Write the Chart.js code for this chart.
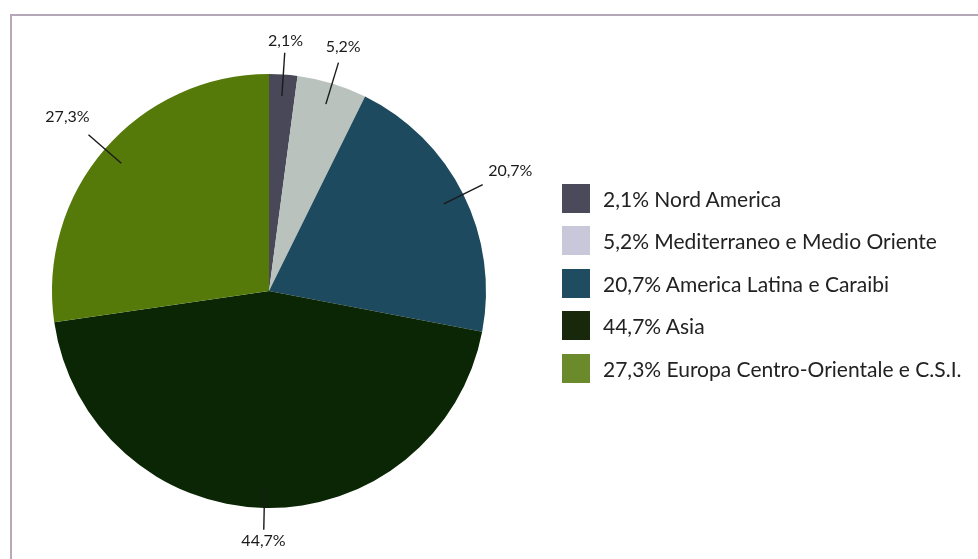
<!DOCTYPE html>
<html>
<head>
<meta charset="utf-8">
<script src="https://cdn.jsdelivr.net/npm/chart.js@4/dist/chart.umd.min.js"></script>
<style>
  html, body { margin: 0; padding: 0; background: #fff; }
  #wrap { position: relative; width: 978px; height: 559px; overflow: hidden; }
  #frame { position: absolute; left: 10px; top: 14px; width: 980px; height: 560px;
           border-top: 2px solid #b4a8b8; border-left: 2px solid #b8a8b8; }
  #chart { position: absolute; left: 0; top: 0; }
  #legend { position: absolute; left: 562px; top: 177px; font-family: Lato, sans-serif;
            font-size: 21px; color: #222; }
  .row { display: flex; align-items: center; height: 42.5px; }
  .box { width: 28px; height: 29px; margin-right: 13px; }
</style>
</head>
<body>
<div id="wrap">
  <div id="frame"></div>
  <canvas id="chart" width="978" height="559"></canvas>
  <div id="legend"></div>
</div>
<script>
// data
const regions = ['Nord America', 'Mediterraneo e Medio Oriente', 'America Latina e Caraibi', 'Asia', 'Europa Centro-Orientale e C.S.I.'];
const shares = [2.1, 5.2, 20.7, 44.7, 27.3];
const shareLabels = ['2,1%', '5,2%', '20,7%', '44,7%', '27,3%'];

const sliceColors = ['#484858', '#b9c2bc', '#1d4a5e', '#0b2605', '#567a0a'];
const boxColors = ['#4a4a5a', '#c8c8da', '#204c62', '#18280a', '#6a8a2c'];

// outside labels with leader lines
const leaderLabels = {
  id: 'leaderLabels',
  afterDatasetsDraw(chart) {
    const ctx = chart.ctx;
    const arcs = chart.getDatasetMeta(0).data;
    ctx.save();
    ctx.strokeStyle = '#1a1a1a';
    ctx.lineWidth = 1.4;
    ctx.fillStyle = '#1a1a1a';
    ctx.font = '16px Lato, sans-serif';
    ctx.textAlign = 'center';
    ctx.textBaseline = 'middle';
    arcs.forEach((arc, i) => {
      const p = arc.getProps(['x', 'y', 'startAngle', 'endAngle', 'outerRadius'], true);
      const a = (p.startAngle + p.endAngle) / 2;
      const r = p.outerRadius;
      const cos = Math.cos(a), sin = Math.sin(a);
      ctx.beginPath();
      ctx.moveTo(p.x + cos * r * 0.9, p.y + sin * r * 0.9);
      ctx.lineTo(p.x + cos * r * 1.1, p.y + sin * r * 1.1);
      ctx.stroke();
      const w = ctx.measureText(shareLabels[i]).width;
      const lr = r * 1.1 + 11 + Math.abs(cos) * w / 2;
      ctx.fillText(shareLabels[i], p.x + cos * lr, p.y + sin * lr);
    });
    ctx.restore();
  }
};

new Chart(document.getElementById('chart'), {
  type: 'pie',
  data: {
    labels: regions,
    datasets: [{
      data: shares,
      backgroundColor: sliceColors,
      borderWidth: 0
    }]
  },
  options: {
    responsive: false,
    animation: false,
    layout: { padding: { left: 52, top: 74, right: 492, bottom: 51 } },
    plugins: {
      legend: { display: false },
      tooltip: { enabled: false }
    }
  },
  plugins: [leaderLabels]
});

// legend
const legend = document.getElementById('legend');
regions.forEach((name, i) => {
  const row = document.createElement('div');
  row.className = 'row';
  const box = document.createElement('div');
  box.className = 'box';
  box.style.background = boxColors[i];
  const txt = document.createElement('span');
  txt.textContent = shareLabels[i] + ' ' + name;
  row.appendChild(box);
  row.appendChild(txt);
  legend.appendChild(row);
});
</script>
</body>
</html>
